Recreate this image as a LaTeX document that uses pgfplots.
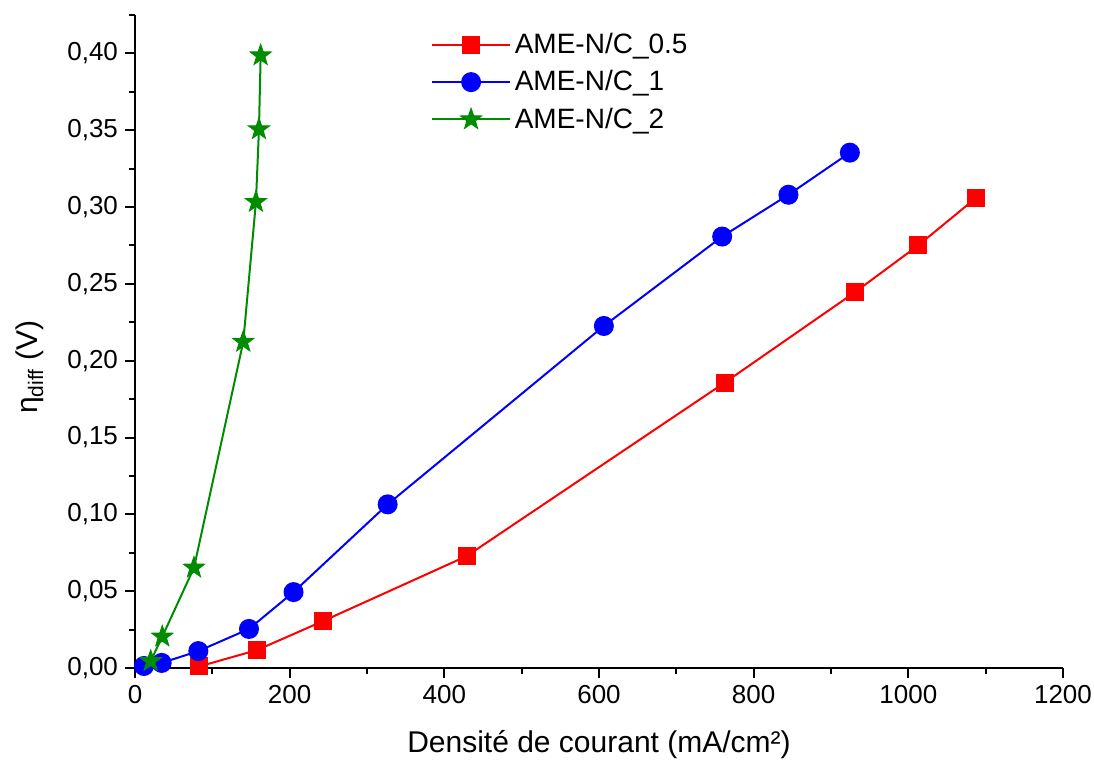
\documentclass[border=0pt]{standalone}
\usepackage{pgfplots}
\pgfplotsset{compat=1.18}
\usepackage{fontspec}
\setmainfont{Liberation Sans}
\pgfdeclareplotmark{fstar}{%
  \pgfpathmoveto{\pgfqpointpolar{90}{\pgfplotmarksize}}%
  \pgfpathlineto{\pgfqpointpolar{126}{0.4\pgfplotmarksize}}%
  \pgfpathlineto{\pgfqpointpolar{162}{\pgfplotmarksize}}%
  \pgfpathlineto{\pgfqpointpolar{198}{0.4\pgfplotmarksize}}%
  \pgfpathlineto{\pgfqpointpolar{234}{\pgfplotmarksize}}%
  \pgfpathlineto{\pgfqpointpolar{270}{0.4\pgfplotmarksize}}%
  \pgfpathlineto{\pgfqpointpolar{306}{\pgfplotmarksize}}%
  \pgfpathlineto{\pgfqpointpolar{342}{0.4\pgfplotmarksize}}%
  \pgfpathlineto{\pgfqpointpolar{18}{\pgfplotmarksize}}%
  \pgfpathlineto{\pgfqpointpolar{54}{0.4\pgfplotmarksize}}%
  \pgfpathclose
  \pgfusepathqfillstroke}
\begin{document}
\begin{tikzpicture}
\useasboundingbox (-67.5pt,-48pt) rectangle (479.5pt,334pt);
\begin{axis}[
  at={(0,0)}, anchor=south west,
  scale only axis, width=464pt, height=326.5pt,
  xmin=0, xmax=1200, ymin=0, ymax=0.425,
  axis x line=bottom, axis y line=left,
  axis line style={-, line width=1pt},
  xtick={0,200,...,1200}, minor xtick={100,300,...,1100},
  ytick={0,0.05,...,0.401}, minor ytick={0.025,0.075,...,0.40},
  tick align=outside,
  major tick length=5pt, minor tick length=3pt,
  every tick/.style={black, line width=1pt},
  tick label style={font=\fontsize{13}{15}\selectfont},
  /pgf/number format/assume math mode=true,
  yticklabel style={/pgf/number format/.cd, use comma, fixed, fixed zerofill, precision=2},
  xticklabel style={/pgf/number format/.cd, fixed, precision=0, 1000 sep={}},
  scaled y ticks=false,
  xlabel={Densité de courant (mA/cm²)},
  ylabel={η\textsubscript{diff} (V)},
  label style={font=\fontsize{15}{18}\selectfont},
  xlabel style={at={(axis description cs:0.5,-0.118)}, anchor=center},
  ylabel style={at={(axis description cs:-0.113,0.461)}, anchor=center},
  legend style={at={(axis description cs:0.3125,0.985)}, anchor=north west, draw=none, fill=none,
    font=\fontsize{14}{16}\selectfont, row sep=3pt},
  legend cell align=left,
  legend image code/.code={\draw[mark repeat=2,mark phase=2] plot coordinates {(0cm,0cm) (0.68cm,0cm) (1.36cm,0cm)};},
  clip=false,
]
\addplot[red, line width=1pt, mark=square*, mark size=4pt, mark options={solid}] coordinates {
(83,0.001) (158,0.0117) (242.6,0.0304) (428.8,0.0728) (762.8,0.1858) (931,0.2446) (1012.7,0.275) (1087.6,0.306)
};
\addlegendentry{AME-N/C\_0.5}
\addplot[blue, line width=1pt, mark=*, mark size=4.5pt, mark options={solid}] coordinates {
(11.6,0.0013) (34.5,0.0033) (81.9,0.011) (147.4,0.0254) (205,0.0494) (326.7,0.1065) (606.3,0.2226) (759.3,0.2808) (845,0.308) (924.4,0.3354)
};
\addlegendentry{AME-N/C\_1}
\addplot[black!45!green, line width=1pt, mark=fstar, mark size=5.5pt, mark options={solid, fill=black!45!green, line width=0.5pt}] coordinates {
(20.3,0.0045) (35.3,0.0204) (76.3,0.0653) (140,0.2123) (156.4,0.3033) (160.3,0.3506) (162.5,0.3987)
};
\addlegendentry{AME-N/C\_2}
\end{axis}
\end{tikzpicture}
\end{document}
